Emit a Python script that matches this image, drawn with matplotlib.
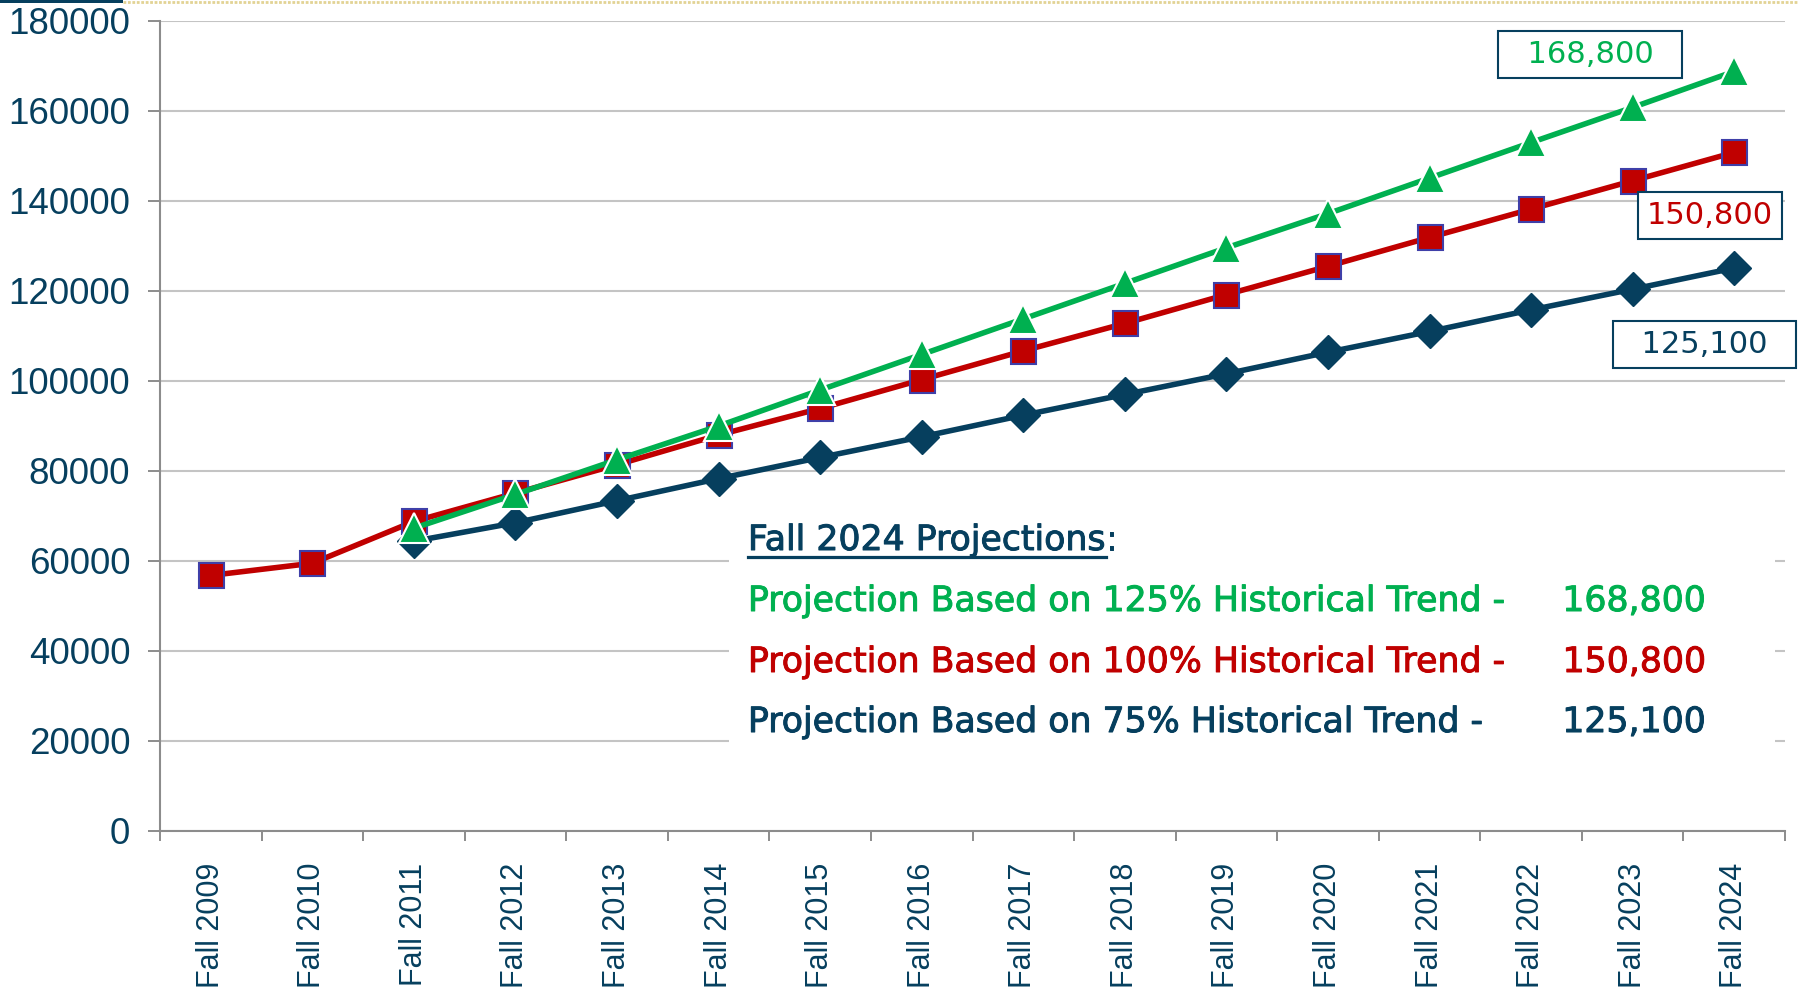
import numpy as np
import matplotlib
matplotlib.use("Agg")
from matplotlib import pyplot as plt
from matplotlib.patches import Rectangle
from matplotlib.lines import Line2D
import matplotlib.patheffects as pe

# data
years = ["Fall 2009", "Fall 2010", "Fall 2011", "Fall 2012", "Fall 2013", "Fall 2014",
         "Fall 2015", "Fall 2016", "Fall 2017", "Fall 2018", "Fall 2019", "Fall 2020",
         "Fall 2021", "Fall 2022", "Fall 2023", "Fall 2024"]
trend_75 = [None, None, 64400, 68500, 73400, 78300, 83000, 87600, 92400, 97000,
            101600, 106400, 111000, 115800, 120400, 125100]
trend_100 = [56800, 59500, 68800, 75100, 81400, 88000, 93900, 100300, 106700, 112800,
             119200, 125500, 131900, 138200, 144500, 150800]
trend_125 = [None, None, 67300, 74800, 82500, 90000, 98000, 105900, 113800, 121700,
             129600, 137200, 145100, 153000, 160800, 168800]
yticks = list(range(0, 180001, 20000))

legend_lines = ["Projection Based on 125% Historical Trend -",
                "Projection Based on 100% Historical Trend -",
                "Projection Based on 75% Historical Trend -"]
legend_values = ["168,800", "150,800", "125,100"]

navy = "#063F5E"
red = "#C00000"
green = "#00B050"
gray = "#8C8C8C"

fig = plt.figure(figsize=(17.98, 9.93), dpi=100)
ax = fig.add_axes([160 / 1798, 1 - 831 / 993, 1625 / 1798, 810 / 993])

x = np.arange(len(years))
y75 = np.array([np.nan if v is None else v for v in trend_75], dtype=float)
y100 = np.array(trend_100, dtype=float)
y125 = np.array([np.nan if v is None else v for v in trend_125], dtype=float)

ax.plot(x, y75, color=navy, lw=4, marker="D", ms=17.5, mfc=navy, mec=navy, zorder=3)
ax.plot(x, y100, color=red, lw=4, marker="s", ms=18, mfc=red, mec="#3F3FA8", mew=1.5, zorder=4)
ax.plot(x, y125, color=green, lw=4, marker="^", ms=21, mfc=green, mec="white", mew=1.5, zorder=5)

# axes styling
ax.set_xlim(-0.5, len(years) - 0.5)
ax.set_ylim(0, 180000)
ax.set_yticks(yticks)
ax.set_yticklabels([str(v) for v in yticks], fontsize=26.5, family="Liberation Sans", color=navy)
ax.set_xticks(np.arange(len(years) + 1) - 0.5)
ax.set_xticklabels([])
ax.set_xticks(x, minor=True)
ax.set_xticklabels(years, minor=True, rotation=90, fontsize=22, family="Liberation Sans", color=navy)
ax.tick_params(axis="x", which="major", direction="out", length=7, width=1.4, color=gray)
ax.tick_params(axis="x", which="minor", length=0, pad=23)
ax.tick_params(axis="y", direction="out", length=8.5, width=1.4, color=gray, pad=13)
for s in ["top", "right"]:
    ax.spines[s].set_visible(False)
for s in ["left", "bottom"]:
    ax.spines[s].set_color(gray)
    ax.spines[s].set_linewidth(1.5)
ax.set_axisbelow(True)
ax.grid(axis="y", color="#C4C4C4", lw=1.5)

# white panel behind the projections text
ax.add_patch(Rectangle((0.350, 0.056), 0.644, 0.346, transform=ax.transAxes,
                       facecolor="white", edgecolor="none", zorder=1))

def heavy(col):
    # slightly heavier strokes, like the original semibold text
    return [pe.withStroke(linewidth=0.7, foreground=col)]

# end value boxes
box_offsets = [(-103.7, 12.2), (-17.3, -45.4), (-21.6, -55.1)]
box_series = [y125, y100, y75]
box_colors = [green, red, navy]
box_pad = ["  ", "", "  "]
for val, ser, col, off, sp in zip(legend_values, box_series, box_colors, box_offsets, box_pad):
    ax.annotate(sp + val + sp, xy=(x[-1], ser[-1]), xytext=off, textcoords="offset points",
                ha="center", va="center", fontsize=22, color=col, zorder=6,
                bbox=dict(boxstyle="square,pad=0.3", fc="white", ec=navy, lw=1.5))

# projections text block
tx = 0.3618
ty = 0.3469
title = ax.text(tx, ty, "Fall 2024 Projections", transform=ax.transAxes,
                fontsize=25, color=navy, va="baseline", ha="left", zorder=6,
                path_effects=heavy(navy))
fig.canvas.draw()
bb = title.get_window_extent()
inv = ax.transAxes.inverted()
x0, _ = inv.transform((bb.x0, 0))
x1, _ = inv.transform((bb.x1, 0))
ax.text(x1, ty, ":", transform=ax.transAxes, fontsize=25, color=navy,
        va="baseline", ha="left", zorder=6, path_effects=heavy(navy))
# underline
uy = (831 - 557) / 810
ax.add_line(Line2D([x0, x1], [uy, uy], transform=ax.transAxes, color=navy, lw=2.3, zorder=6))

line_y = [0.2716, 0.1963, 0.1222]
for txt, val, col, yy in zip(legend_lines, legend_values, box_colors, line_y):
    ax.text(tx, yy, txt, transform=ax.transAxes, fontsize=25, color=col,
            va="baseline", ha="left", zorder=6, path_effects=heavy(col))
    ax.text(0.9514, yy, val, transform=ax.transAxes, fontsize=25, color=col,
            va="baseline", ha="right", zorder=6, path_effects=heavy(col))

# thin header rule at the very top
fig.add_artist(Rectangle((0, 1 - 3 / 993), 123 / 1798, 3 / 993, transform=fig.transFigure,
                         facecolor=navy, edgecolor="none"))
fig.add_artist(Line2D([123 / 1798, 1], [1 - 1.5 / 993, 1 - 1.5 / 993], transform=fig.transFigure,
                      color="#E2D394", lw=2, ls=(0, (1, 0.6))))

fig.savefig("out.png", dpi=100)
